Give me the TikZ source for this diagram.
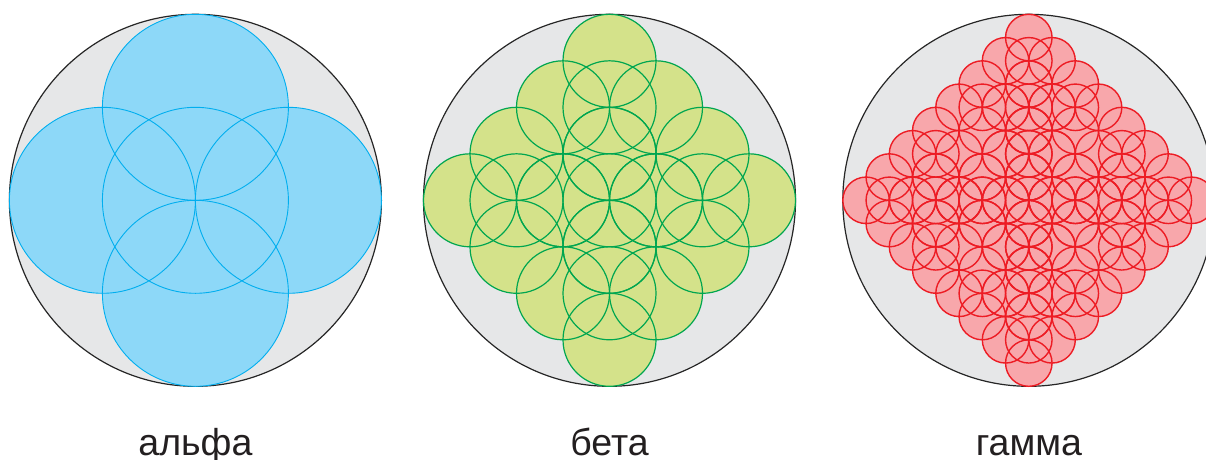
\documentclass[tikz,border=0pt]{standalone}
\usepackage{fontspec}
\setmainfont{Liberation Sans}
\definecolor{discgray}{HTML}{E6E7E8}
\definecolor{txtcol}{HTML}{231F20}
\definecolor{bluefill}{HTML}{8DD8F8}
\definecolor{bluedraw}{HTML}{00AEEF}
\definecolor{greenfill}{HTML}{D4E28A}
\definecolor{greendraw}{HTML}{00A650}
\definecolor{redfill}{HTML}{F8A7AB}
\definecolor{reddraw}{HTML}{ED1C24}
\tikzset{
  disc/.style={fill=discgray, draw=black!85, line width=1.2pt},
  label/.style={font=\fontsize{37.5}{40}\selectfont, text=txtcol, anchor=base, inner sep=0pt},
}
\def\dirs{0/0,1/0,-1/0,0/1,0/-1}
\begin{document}
\begin{tikzpicture}[x=1pt,y=-1pt]
\useasboundingbox (0,0) rectangle (1206,459);
\def\R{186}
\def\cy{200.3}
% ---------- alpha ----------
\def\cxa{195.4}
\draw[disc] (\cxa,\cy) circle[radius=\R];
\foreach \a/\b in \dirs {
  \fill[bluefill] ({\cxa+\a*\R/2},{\cy+\b*\R/2}) circle[radius=\R/2];
}
\foreach \a/\b in \dirs {
  \draw[bluedraw, line width=0.9pt] ({\cxa+\a*\R/2},{\cy+\b*\R/2}) circle[radius=\R/2];
}
\node[label] (alpha) at (\cxa,455) {альфа};
% ---------- beta ----------
\def\cxb{609.5}
\draw[disc] (\cxb,\cy) circle[radius=\R];
\foreach \a/\b in \dirs {
  \foreach \c/\d in \dirs {
    \fill[greenfill] ({\cxb+\a*\R/2+\c*\R/4},{\cy+\b*\R/2+\d*\R/4}) circle[radius=\R/4];
  }
}
\foreach \a/\b in \dirs {
  \foreach \c/\d in \dirs {
    \draw[greendraw, line width=1.2pt] ({\cxb+\a*\R/2+\c*\R/4},{\cy+\b*\R/2+\d*\R/4}) circle[radius=\R/4];
  }
}
\node[label] (beta) at (\cxb,455) {бета};
% ---------- gamma ----------
\def\cxc{1028.8}
\draw[disc] (\cxc,\cy) circle[radius=\R];
\foreach \a/\b in \dirs {
  \foreach \c/\d in \dirs {
    \foreach \e/\f in \dirs {
      \fill[redfill] ({\cxc+\a*\R/2+\c*\R/4+\e*\R/8},{\cy+\b*\R/2+\d*\R/4+\f*\R/8}) circle[radius=\R/8];
    }
  }
}
\foreach \a/\b in \dirs {
  \foreach \c/\d in \dirs {
    \foreach \e/\f in \dirs {
      \draw[reddraw, line width=1.4pt] ({\cxc+\a*\R/2+\c*\R/4+\e*\R/8},{\cy+\b*\R/2+\d*\R/4+\f*\R/8}) circle[radius=\R/8];
    }
  }
}
\node[label] (gamma) at (\cxc,455) {гамма};
\end{tikzpicture}
\end{document}
